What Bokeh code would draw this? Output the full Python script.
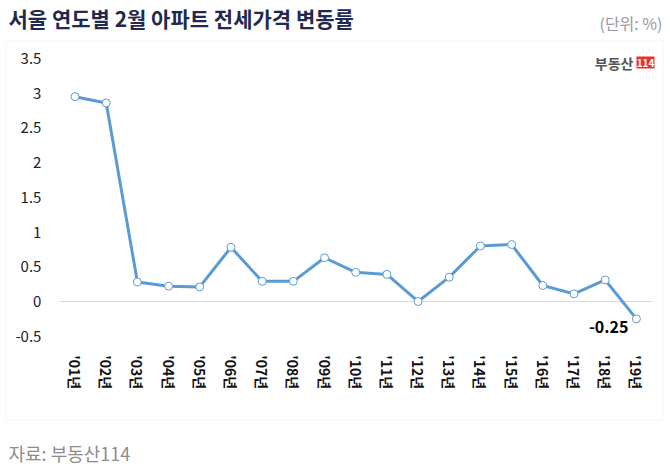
from bokeh.plotting import figure
from bokeh.models import Range1d, FixedTicker, Label, BoxAnnotation, ColumnDataSource, LinearAxis
from bokeh.core.properties import value
from bokeh.embed import file_html
from bokeh.resources import INLINE

# ---- data ----
years = ["'01년", "'02년", "'03년", "'04년", "'05년", "'06년", "'07년", "'08년", "'09년", "'10년",
         "'11년", "'12년", "'13년", "'14년", "'15년", "'16년", "'17년", "'18년", "'19년"]
rates = [2.95, 2.86, 0.28, 0.22, 0.21, 0.78, 0.29, 0.29, 0.63, 0.42,
         0.39, 0.00, 0.35, 0.80, 0.82, 0.23, 0.11, 0.31, -0.25]
y_ticks = [-0.5, 0, 0.5, 1, 1.5, 2, 2.5, 3, 3.5]
y_tick_labels = ["-0.5", "0", "0.5", "1", "1.5", "2", "2.5", "3", "3.5"]

title_text = "서울 연도별 2월 아파트 전세가격 변동률"
unit_text = "(단위: %)"
source_text = "자료: 부동산114"
logo_text = "부동산"
logo_num = "114"

BLUE = "#5b9bd5"
FONT = "Noto Sans CJK KR"
W, H = 668, 464

xs = list(range(len(years)))

# frame covers the whole canvas; axes are pinned inside it with fixed_location
p = figure(width=W, height=H, x_range=Range1d(-2.39, 19.03), y_range=Range1d(-2.348, 4.335),
           output_backend="svg", toolbar_location=None, x_axis_type=None, y_axis_type=None,
           min_border_left=0, min_border_right=0, min_border_top=0, min_border_bottom=0)
p.title.visible = False
p.outline_line_color = None
p.xgrid.visible = False
p.ygrid.visible = False
p.background_fill_color = "white"
p.border_fill_color = "white"

# y axis
yax = LinearAxis(fixed_location=-0.5, ticker=FixedTicker(ticks=y_ticks),
                 major_label_overrides={t: l for t, l in zip(y_ticks, y_tick_labels)},
                 axis_line_color=None, major_tick_line_color=None, minor_tick_line_color=None,
                 major_tick_out=0, major_tick_in=0, major_label_standoff=18,
                 major_label_text_font=FONT, major_label_text_font_size="15px",
                 major_label_text_color="#222222")
p.add_layout(yax, "left")

# x axis
xax = LinearAxis(fixed_location=-0.5, ticker=FixedTicker(ticks=xs),
                 major_label_overrides={i: y for i, y in zip(xs, years)},
                 axis_line_color=None, major_tick_line_color=None, minor_tick_line_color=None,
                 major_tick_out=0, major_tick_in=0, major_label_standoff=19,
                 major_label_orientation="vertical",
                 major_label_text_font=FONT, major_label_text_font_size="14px",
                 major_label_text_font_style="bold", major_label_text_color="#111111")
p.add_layout(xax, "below")

# zero line across the category span
p.segment(x0=[-0.5], y0=[0], x1=[len(years) - 0.5], y1=[0], line_color="#d9d9d9", line_width=1)

src = ColumnDataSource(dict(x=xs, y=rates))
p.line("x", "y", source=src, line_color=BLUE, line_width=3)
p.scatter("x", "y", source=src, size=8, fill_color="white", line_color=BLUE, line_width=1)

# last value label
last = ColumnDataSource(dict(x=[xs[-1]], y=[rates[-1]], t=[f"{rates[-1]:.2f}"]))
p.text("x", "y", text="t", source=last, x_offset=-8, y_offset=8,
       text_align="right", text_baseline="middle", text_font=value(FONT),
       text_font_size="16px", text_font_style="bold", text_color="#000000")

# outer box (screen units from the frame's bottom-left = canvas bottom-left)
p.add_layout(BoxAnnotation(left=5.5, right=662.5, top=H - 40.5, bottom=H - 419.5,
                           left_units="screen", right_units="screen",
                           top_units="screen", bottom_units="screen",
                           fill_color=None, fill_alpha=0, line_color="#d9d9d9", line_width=1,
                           level="underlay"))

# title, unit, source
p.add_layout(Label(x=8, y=H - 17, x_units="screen", y_units="screen", text=title_text,
                   text_font=FONT, text_font_size="21px", text_font_style="bold",
                   text_color="#1f2a4d", text_baseline="middle"))
p.add_layout(Label(x=662, y=H - 22, x_units="screen", y_units="screen", text=unit_text,
                   text_font=FONT, text_font_size="16px", text_color="#9a9a9a",
                   text_align="right", text_baseline="middle"))
p.add_layout(Label(x=8, y=H - 452, x_units="screen", y_units="screen", text=source_text,
                   text_font=FONT, text_font_size="18px", text_color="#8c8c8c",
                   text_baseline="middle"))

# logo
p.add_layout(Label(x=633, y=H - 62, x_units="screen", y_units="screen", text=logo_text,
                   text_font=FONT, text_font_size="14px", text_font_style="bold",
                   text_color="#555555", text_align="right", text_baseline="middle"))
p.add_layout(BoxAnnotation(left=636, right=654, top=H - 56, bottom=H - 68,
                           left_units="screen", right_units="screen",
                           top_units="screen", bottom_units="screen",
                           fill_color="#e8322a", fill_alpha=1, line_color=None))
p.add_layout(Label(x=645, y=H - 62, x_units="screen", y_units="screen", text=logo_num,
                   text_font=FONT, text_font_size="10px", text_font_style="bold",
                   text_color="white", text_align="center", text_baseline="middle"))

open("out.html", "w").write(file_html(p, INLINE))
